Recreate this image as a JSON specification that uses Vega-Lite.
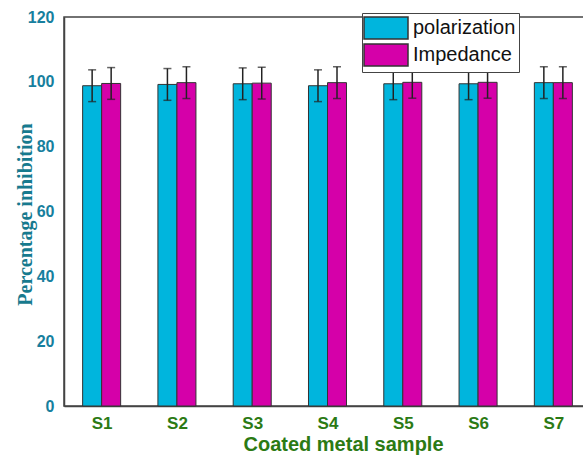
{
  "$schema": "https://vega.github.io/schema/vega-lite/v6.json",
  "autosize": {"type": "none"},
  "padding": {"left": 64, "top": 17, "right": 0, "bottom": 50},
  "width": 527,
  "height": 389,
  "data": {"values": [
    {"sample": "S1", "series": "polarization", "value": 98.8, "lo": 93.9, "hi": 103.7},
    {"sample": "S1", "series": "Impedance", "value": 99.5, "lo": 94.6, "hi": 104.4},
    {"sample": "S2", "series": "polarization", "value": 99.2, "lo": 94.3, "hi": 104.1},
    {"sample": "S2", "series": "Impedance", "value": 99.75, "lo": 94.85, "hi": 104.65},
    {"sample": "S3", "series": "polarization", "value": 99.4, "lo": 94.5, "hi": 104.3},
    {"sample": "S3", "series": "Impedance", "value": 99.6, "lo": 94.7, "hi": 104.5},
    {"sample": "S4", "series": "polarization", "value": 98.8, "lo": 93.9, "hi": 103.7},
    {"sample": "S4", "series": "Impedance", "value": 99.75, "lo": 94.85, "hi": 104.65},
    {"sample": "S5", "series": "polarization", "value": 99.4, "lo": 94.5, "hi": 104.3},
    {"sample": "S5", "series": "Impedance", "value": 99.85, "lo": 94.95, "hi": 104.75},
    {"sample": "S6", "series": "polarization", "value": 99.4, "lo": 94.5, "hi": 104.3},
    {"sample": "S6", "series": "Impedance", "value": 99.85, "lo": 94.95, "hi": 104.75},
    {"sample": "S7", "series": "polarization", "value": 99.75, "lo": 94.85, "hi": 104.65},
    {"sample": "S7", "series": "Impedance", "value": 99.75, "lo": 94.85, "hi": 104.65}
  ]},
  "encoding": {
    "x": {
      "field": "sample", "type": "nominal",
      "scale": {"paddingInner": 0, "paddingOuter": 0},
      "axis": {
        "title": "Coated metal sample",
        "titleFont": "Liberation Sans", "titleFontSize": 20, "titleFontWeight": "bold", "titleColor": "#2b7a14",
        "titleBaseline": "alphabetic", "titleX": 279, "titleY": 44,
        "labelFont": "Liberation Sans", "labelFontSize": 17, "labelFontWeight": "bold", "labelColor": "#2b7a14",
        "labelAngle": 0, "labelPadding": 9,
        "tickBand": "extent", "tickSize": 0, "tickColor": "#444", "tickWidth": 1.2,
        "encode": {"ticks": {"update": {"y2": {"value": -4}}}}
      }
    },
    "xOffset": {
      "field": "series", "type": "nominal", "sort": ["polarization", "Impedance"],
      "scale": {"paddingInner": 0, "paddingOuter": 0.98}
    }
  },
  "layer": [
    {
      "mark": {"type": "bar", "stroke": "#333", "strokeWidth": 1},
      "encoding": {
        "y": {
          "field": "value", "type": "quantitative",
          "scale": {"domain": [0, 120], "nice": false},
          "axis": {
            "title": "Percentage inhibition",
            "titleFont": "Liberation Serif", "titleFontSize": 20, "titleFontWeight": "bold", "titleColor": "#177a8e",
            "titleBaseline": "alphabetic", "titleAngle": -90, "titleX": -33, "titleY": 197,
            "values": [0, 10, 20, 30, 40, 50, 60, 70, 80, 90, 100, 110, 120],
            "labelExpr": "datum.value % 20 === 0 ? datum.label : ''",
            "labelFont": "Liberation Sans", "labelFontSize": 16, "labelFontWeight": "bold", "labelColor": "#177f9e",
            "labelPadding": 10, "labelFlush": false,
            "tickSize": 0, "tickColor": "#444", "tickWidth": 1.2,
            "encode": {"ticks": {"update": {"x2": {"signal": "datum.value % 20 === 0 ? 6 : 3"}}}}
          }
        },
        "color": {
          "field": "series", "type": "nominal",
          "scale": {"domain": ["polarization", "Impedance"], "range": ["#00B5DD", "#D500A9"]},
          "legend": {
            "title": null, "orient": "none", "legendX": 298, "legendY": -4,
            "symbolType": "M-2,-1H2V1H-2Z", "symbolSize": 484, "symbolOffset": 9,
            "symbolStrokeColor": "#333", "symbolStrokeWidth": 1.5, "symbolOpacity": 1,
            "labelFont": "Liberation Sans", "labelFontSize": 20, "labelColor": "#111", "labelOffset": 15,
            "fillColor": "white", "strokeColor": "#444", "padding": 3, "rowPadding": -1
          }
        }
      }
    },
    {
      "mark": {"type": "rule", "color": "#222", "strokeWidth": 1.5},
      "encoding": {
        "y": {"field": "lo", "type": "quantitative"},
        "y2": {"field": "hi"}
      }
    },
    {
      "mark": {"type": "tick", "color": "#222", "thickness": 1.5, "size": 8, "orient": "horizontal"},
      "encoding": {"y": {"field": "lo", "type": "quantitative"}}
    },
    {
      "mark": {"type": "tick", "color": "#222", "thickness": 1.5, "size": 8, "orient": "horizontal"},
      "encoding": {"y": {"field": "hi", "type": "quantitative"}}
    }
  ],
  "config": {
    "view": {"stroke": "#444", "strokeWidth": 1.5},
    "axis": {"domainColor": "#444", "domainWidth": 1.5, "grid": false}
  }
}
